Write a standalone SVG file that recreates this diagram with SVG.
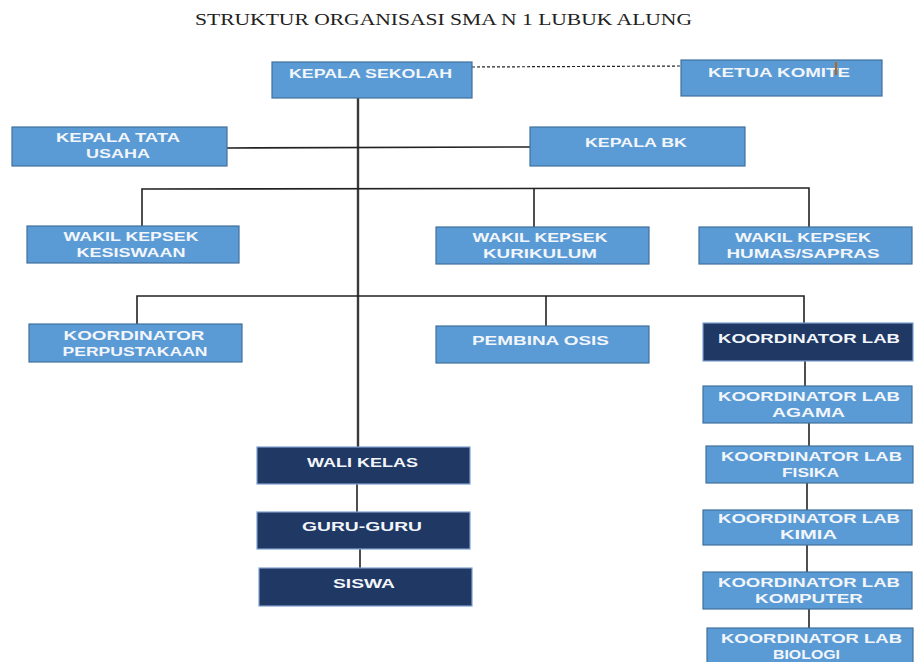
<svg xmlns="http://www.w3.org/2000/svg" width="914" height="662" viewBox="0 0 914 662">
<style>
.lb{fill:#5b9bd5;stroke:#41719c;stroke-width:1.2}
.db{fill:#1f3864;stroke:#7f9fcf;stroke-width:1.2}
.t{font-family:"Liberation Sans",Arial,sans-serif;font-weight:bold;font-size:12.5px;fill:#f2f6fb;text-anchor:middle}
.c{stroke:#222;stroke-width:1.6;fill:none}
.m{stroke:#3a3a3a;stroke-width:2.4;fill:none}
</style>
<rect width="914" height="662" fill="#fff"/>
<text x="195" y="25" textLength="497" lengthAdjust="spacingAndGlyphs" style="font-family:'Liberation Serif','Times New Roman',serif;font-size:16.5px;fill:#222">STRUKTUR ORGANISASI SMA N 1 LUBUK ALUNG</text>
<g id="connectors">
<line class="m" x1="358" y1="98" x2="358" y2="447"/>
<line x1="472" y1="67" x2="681" y2="66" stroke="#222" stroke-width="1.2" stroke-dasharray="3,2"/>
<line class="c" x1="227" y1="148" x2="530" y2="147"/>
<polyline class="c" points="142,226 142,189 809,188 809,227"/>
<line class="c" x1="534" y1="188" x2="534" y2="227"/>
<polyline class="c" points="137,324 137,296 804,296 804,323"/>
<line class="c" x1="546" y1="296" x2="546" y2="326"/>
<line class="c" x1="805" y1="361" x2="805" y2="386"/>
<line class="c" x1="809" y1="423" x2="809" y2="446"/>
<line class="c" x1="807" y1="483" x2="807" y2="510"/>
<line class="c" x1="807" y1="545" x2="807" y2="572"/>
<line class="c" x1="809" y1="609" x2="809" y2="628"/>
<line class="c" x1="357" y1="484" x2="357" y2="512"/>
<line class="c" x1="360" y1="549" x2="360" y2="568"/>
</g>
<g id="kepala-sekolah"><rect class="lb" x="272" y="62" width="200" height="36"/><text class="t" x="370.5" y="78" textLength="163" lengthAdjust="spacingAndGlyphs">KEPALA SEKOLAH</text></g>
<g id="ketua-komite"><rect class="lb" x="681" y="60" width="201" height="36"/><text class="t" x="779" y="77" textLength="142" lengthAdjust="spacingAndGlyphs">KETUA KOMITE</text><rect x="835" y="62" width="2" height="13" fill="#b8651b"/></g>
<g id="kepala-tata-usaha"><rect class="lb" x="12" y="127" width="215" height="39"/><text class="t" x="118" y="142" textLength="124" lengthAdjust="spacingAndGlyphs">KEPALA TATA</text><text class="t" x="118" y="158" textLength="64" lengthAdjust="spacingAndGlyphs">USAHA</text></g>
<g id="kepala-bk"><rect class="lb" x="530" y="127" width="215" height="39"/><text class="t" x="636" y="147" textLength="102" lengthAdjust="spacingAndGlyphs">KEPALA BK</text></g>
<g id="wakil-kesiswaan"><rect class="lb" x="27" y="226" width="212" height="37"/><text class="t" x="131" y="241" textLength="135" lengthAdjust="spacingAndGlyphs">WAKIL KEPSEK</text><text class="t" x="131" y="257" textLength="109" lengthAdjust="spacingAndGlyphs">KESISWAAN</text></g>
<g id="wakil-kurikulum"><rect class="lb" x="436" y="227" width="213" height="37"/><text class="t" x="540" y="242" textLength="135" lengthAdjust="spacingAndGlyphs">WAKIL KEPSEK</text><text class="t" x="540" y="258" textLength="114" lengthAdjust="spacingAndGlyphs">KURIKULUM</text></g>
<g id="wakil-humas"><rect class="lb" x="699" y="227" width="213" height="37"/><text class="t" x="803" y="242" textLength="136" lengthAdjust="spacingAndGlyphs">WAKIL KEPSEK</text><text class="t" x="803" y="258" textLength="153" lengthAdjust="spacingAndGlyphs">HUMAS/SAPRAS</text></g>
<g id="koordinator-perpustakaan"><rect class="lb" x="29" y="324" width="213" height="38"/><text class="t" x="134" y="340" textLength="141" lengthAdjust="spacingAndGlyphs">KOORDINATOR</text><text class="t" x="135" y="356" textLength="145" lengthAdjust="spacingAndGlyphs">PERPUSTAKAAN</text></g>
<g id="pembina-osis"><rect class="lb" x="436" y="326" width="213" height="37"/><text class="t" x="540.5" y="345" textLength="137" lengthAdjust="spacingAndGlyphs">PEMBINA OSIS</text></g>
<g id="koordinator-lab"><rect class="db" x="703" y="323" width="210" height="38"/><text class="t" x="809" y="343" textLength="182" lengthAdjust="spacingAndGlyphs">KOORDINATOR LAB</text></g>
<g id="lab-agama"><rect class="lb" x="703" y="386" width="209" height="37"/><text class="t" x="809" y="401" textLength="182" lengthAdjust="spacingAndGlyphs">KOORDINATOR LAB</text><text class="t" x="808.5" y="417" textLength="73" lengthAdjust="spacingAndGlyphs">AGAMA</text></g>
<g id="lab-fisika"><rect class="lb" x="706" y="446" width="207" height="37"/><text class="t" x="811.5" y="461" textLength="181" lengthAdjust="spacingAndGlyphs">KOORDINATOR LAB</text><text class="t" x="810.5" y="477" textLength="57" lengthAdjust="spacingAndGlyphs">FISIKA</text></g>
<g id="lab-kimia"><rect class="lb" x="703" y="510" width="209" height="35"/><text class="t" x="809" y="523" textLength="182" lengthAdjust="spacingAndGlyphs">KOORDINATOR LAB</text><text class="t" x="808.5" y="539" textLength="57" lengthAdjust="spacingAndGlyphs">KIMIA</text></g>
<g id="lab-komputer"><rect class="lb" x="703" y="572" width="209" height="37"/><text class="t" x="809" y="587" textLength="182" lengthAdjust="spacingAndGlyphs">KOORDINATOR LAB</text><text class="t" x="809" y="603" textLength="108" lengthAdjust="spacingAndGlyphs">KOMPUTER</text></g>
<g id="lab-biologi"><rect class="lb" x="707" y="628" width="206" height="40"/><text class="t" x="811.5" y="643" textLength="181" lengthAdjust="spacingAndGlyphs">KOORDINATOR LAB</text><text class="t" x="806.5" y="659" textLength="67" lengthAdjust="spacingAndGlyphs">BIOLOGI</text></g>
<g id="wali-kelas"><rect class="db" x="257" y="447" width="213" height="37"/><text class="t" x="362.5" y="467" textLength="111" lengthAdjust="spacingAndGlyphs">WALI KELAS</text></g>
<g id="guru-guru"><rect class="db" x="257" y="512" width="213" height="37"/><text class="t" x="362" y="531" textLength="120" lengthAdjust="spacingAndGlyphs">GURU-GURU</text></g>
<g id="siswa"><rect class="db" x="259" y="568" width="213" height="38"/><text class="t" x="364" y="588" textLength="62" lengthAdjust="spacingAndGlyphs">SISWA</text></g>
</svg>
